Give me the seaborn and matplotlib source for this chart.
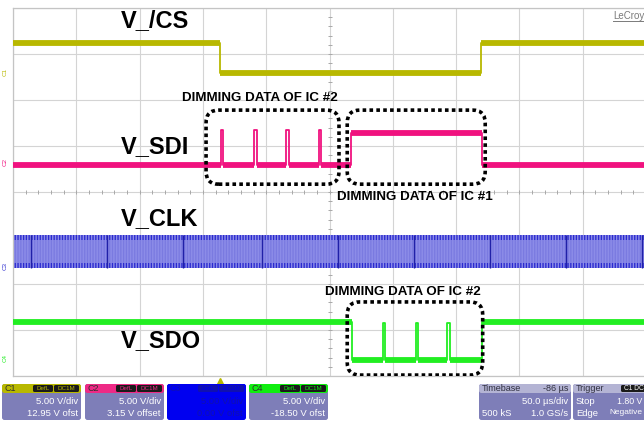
import numpy as np
import pandas as pd
import matplotlib
matplotlib.use("Agg")
import matplotlib.pyplot as plt
import seaborn as sns
from matplotlib.patches import FancyBboxPatch

# 1. waveform data (scope divisions: x 0-10, y 0-8 from bottom)
cs_t = [0.0, 3.27, 7.39, 10.0]
cs_v = [7.24, 6.59, 7.24, 7.24]

sdi_t = [0.0, 3.28, 3.32, 3.81, 3.85, 4.32, 4.36, 4.83, 4.87, 5.34, 7.41, 10.0]
sdi_v = [4.59, 5.35, 4.59, 5.35, 4.59, 5.35, 4.59, 5.35, 4.59, 5.28, 4.59, 4.59]

sdo_t = [0.0, 5.36, 5.84, 5.88, 6.36, 6.40, 6.86, 6.90, 7.41, 10.0]
sdo_v = [1.17, 0.35, 1.15, 0.35, 1.15, 0.35, 1.15, 0.35, 1.17, 1.17]

clk_hi = 3.07
clk_lo = 2.35
clk_gaps = [0.28, 1.48, 2.68, 3.93, 5.13, 6.33, 7.54, 8.74, 9.94]

# labels
trace_names = ["V_/CS", "V_SDI", "V_CLK", "V_SDO"]
trace_label_y = [7.72, 4.98, 3.43, 0.76]
dim_labels = ["DIMMING DATA OF IC #2", "DIMMING DATA OF IC #1", "DIMMING DATA OF IC #2"]
dim_label_xy = [(2.67, 6.05), (5.12, 3.9), (4.93, 1.83)]
dim_boxes = [(3.05, 4.17, 5.15, 5.78), (5.28, 4.17, 7.46, 5.78), (5.28, 0.02, 7.42, 1.61)]

c_cs = "#b8b800"
c_sdi = "#f0127f"
c_clk = "#8c8ce8"
c_sdo = "#22ee22"

plt.rcParams["font.family"] = ["Liberation Sans", "DejaVu Sans"]
plt.rcParams["hatch.linewidth"] = 0.9

fig = plt.figure(figsize=(6.44, 4.21), dpi=100)
ax = fig.add_axes([13 / 644, 45 / 421, 633 / 644, 368 / 421])
ax.set_xlim(0, 10)
ax.set_ylim(0, 8)

# 2. graticule
ax.set_xticks(np.arange(0, 11))
ax.set_yticks(np.arange(0, 9))
ax.grid(True, color="#d4d4d4", lw=0.8)
ax.tick_params(length=0, labelbottom=False, labelleft=False)
for s in ax.spines.values():
    s.set_color("#c4c4c4")
    s.set_linewidth(0.9)
ax.spines["right"].set_visible(False)
mt = np.arange(0, 10.01, 0.2)
ax.plot(mt, [4] * len(mt), ls="none", marker="|", ms=3, color="#a8a8a8", mew=0.7)
mv = np.arange(0, 8.01, 0.2)
ax.plot([5] * len(mv), mv, ls="none", marker="_", ms=3, color="#a8a8a8", mew=0.7)


# 3. traces
def trace(t, v, color):
    sns.lineplot(x=t, y=v, ax=ax, color=color, lw=1.3, estimator=None, sort=False,
                 drawstyle="steps-post", zorder=3)
    for i in range(len(t) - 1):
        if t[i + 1] - t[i] > 0.1:
            ax.hlines(v[i], t[i], t[i + 1], color=color, lw=4.2, zorder=3, capstyle="butt")


trace(cs_t, cs_v, c_cs)
trace(sdi_t, sdi_v, c_sdi)
trace(sdo_t, sdo_v, c_sdo)

# clock band
ax.fill_between([0, 10], clk_lo, clk_hi, facecolor=c_clk, edgecolor="#7a7ae0", hatch="||||||", lw=0, zorder=2)
ax.fill_between([0, 10], clk_hi - 0.11, clk_hi, facecolor="none", edgecolor="#2a2ad0", hatch="||||||", lw=0, zorder=2)
ax.fill_between([0, 10], clk_lo, clk_lo + 0.11, facecolor="none", edgecolor="#2a2ad0", hatch="||||||", lw=0, zorder=2)
ax.vlines(clk_gaps, clk_lo, clk_hi, color="#2020a8", lw=1.0, zorder=2)

# 4. labels and boxes
for name, y in zip(trace_names, trace_label_y):
    ax.text(1.7, y, name, fontsize=17, fontweight="bold", va="center", ha="left", zorder=5)
for lab, (x, y) in zip(dim_labels, dim_label_xy):
    ax.text(x, y, lab, fontsize=9.6, fontweight="bold", va="center", ha="left", zorder=5)
for x0, y0, x1, y1 in dim_boxes:
    ax.add_patch(FancyBboxPatch((x0, y0), x1 - x0, y1 - y0,
                                boxstyle="round,pad=0,rounding_size=0.2", mutation_aspect=1.376,
                                fc="none", ec="black", lw=2.6, ls=(0, (1, 0.9)), zorder=6))

ax.plot([cs_t[1]], [-0.1], marker="^", ms=4, color=c_cs, clip_on=False)

# channel tags on the left edge
for tag, y, col in zip(["C1", "C2", "C3", "C4"], [6.6, 4.65, 2.4, 0.4], [c_cs, c_sdi, "#3030d0", c_sdo]):
    ax.text(-0.13, y, tag, fontsize=4.5, color=col, rotation=90, ha="center", va="center", clip_on=False)

# 5. status bar (pixel coordinates)
sb = fig.add_axes([0, 0, 1, 1], facecolor="none")
sb.set_xlim(0, 644)
sb.set_ylim(421, 0)
sb.axis("off")

sb.text(613, 16, "LeCroy", fontsize=7, color="#7a7a7a", va="center", ha="left")
sb.plot([613, 644], [21, 21], color="#7a7a7a", lw=0.7)

box_bg = "#7e7eb8"
chan_boxes = [
    (2, "C1", c_cs, "5.00 V/div", "12.95 V ofst"),
    (85, "C2", "#ee2a86", "5.00 V/div", "3.15 V offset"),
    (167, "C3", "#0000f0", "5.00 V/div", "0.00 V ofst"),
    (249, "C4", "#10ee10", "5.00 V/div", "-18.50 V ofst"),
]
for x0, tag, col, l1, l2 in chan_boxes:
    w = 79
    bg = "#0000f0" if tag == "C3" else box_bg
    tc = "#1010b0" if tag == "C3" else "white"
    dark = "#1010b0" if tag == "C3" else "#1a1a1a"
    sb.add_patch(FancyBboxPatch((x0, 384), w, 36, boxstyle="round,pad=0,rounding_size=2.5", fc=bg, ec="none"))
    sb.add_patch(FancyBboxPatch((x0, 384), w, 9, boxstyle="round,pad=0,rounding_size=2.5", fc=col, ec="none"))
    sb.text(x0 + 3, 388.5, tag, fontsize=6.5, color="#303030" if tag != "C3" else "#1010b0", va="center")
    sb.add_patch(FancyBboxPatch((x0 + 31, 385), 20, 7, boxstyle="round,pad=0,rounding_size=1.5", fc=dark, ec="none"))
    sb.add_patch(FancyBboxPatch((x0 + 52, 385), 25, 7, boxstyle="round,pad=0,rounding_size=1.5", fc=dark, ec="none"))
    sb.text(x0 + 41, 388.5, "DefL", fontsize=4.5, color=col, ha="center", va="center")
    sb.text(x0 + 64.5, 388.5, "DC1M", fontsize=4.5, color=col, ha="center", va="center")
    sb.text(x0 + w - 3, 402, l1, fontsize=6.8, color=tc, ha="right", va="center")
    sb.text(x0 + w - 3, 413, l2, fontsize=6.8, color=tc, ha="right", va="center")

# timebase box
sb.add_patch(FancyBboxPatch((479, 384), 92, 36, boxstyle="round,pad=0,rounding_size=2.5", fc=box_bg, ec="none"))
sb.add_patch(FancyBboxPatch((479, 384), 92, 9, boxstyle="round,pad=0,rounding_size=2.5", fc="#b4b4d4", ec="none"))
sb.text(482, 388.5, "Timebase", fontsize=6.5, color="#303040", va="center")
sb.text(568, 388.5, "-86 µs", fontsize=6.5, color="#303040", va="center", ha="right")
sb.text(568, 402, "50.0 µs/div", fontsize=6.8, color="white", va="center", ha="right")
sb.text(482, 413, "500 kS", fontsize=6.8, color="white", va="center")
sb.text(568, 413, "1.0 GS/s", fontsize=6.8, color="white", va="center", ha="right")

# trigger box
sb.add_patch(FancyBboxPatch((573, 384), 80, 36, boxstyle="round,pad=0,rounding_size=2.5", fc=box_bg, ec="none"))
sb.add_patch(FancyBboxPatch((573, 384), 80, 9, boxstyle="round,pad=0,rounding_size=2.5", fc="#b4b4d4", ec="none"))
sb.text(576, 388.5, "Trigger", fontsize=6.5, color="#303040", va="center")
sb.add_patch(FancyBboxPatch((621, 385), 25, 7, boxstyle="round,pad=0,rounding_size=1.5", fc="#1a1a1a", ec="none"))
sb.text(624, 388.5, "C1 DC", fontsize=4.8, color="white", va="center")
sb.text(576, 402, "Stop", fontsize=6.8, color="white", va="center")
sb.text(642, 402, "1.80 V", fontsize=6.3, color="white", va="center", ha="right")
sb.text(576, 413, "Edge", fontsize=6.8, color="white", va="center")
sb.text(642, 413, "Negative", fontsize=6.0, color="white", va="center", ha="right")

fig.savefig("out.png", dpi=100)
